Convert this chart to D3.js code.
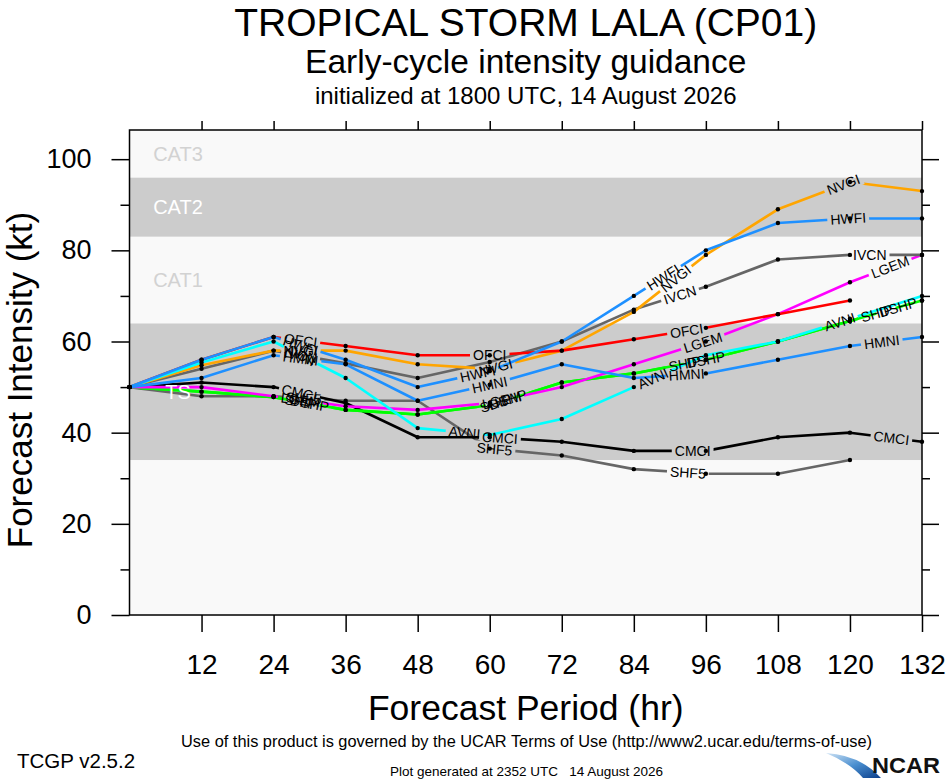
<!DOCTYPE html>
<html><head><meta charset="utf-8">
<script src="https://cdn.jsdelivr.net/npm/d3@7"></script>
<style>
body{margin:0;background:#fff}
svg{display:block}
text{font-family:"Liberation Sans",Arial,Helvetica,sans-serif}
</style>
</head><body>
<svg id="c" width="946" height="780"></svg>
<script>
// ---------------- data ----------------
const hours = [0,12,24,36,48,60,72,84,96,108,120,132];
const OFCI = [50,56,61,59,57,57,58,60.5,63,66,69,null];
const NVGI = [50,54.8,58,58,55,54,58,66.5,79,89,95,93];
const HWFI = [50,56,61,56,50,53.5,60,70,80,86,87,87];
const HMNI = [50,52,57,55,47,50.5,55,52,53,56,59,61];
const IVCN = [50,54,58,55.2,52,55.5,60,67,72,78,79,79];
const LGEM = [50,50,48,45.8,45,46.5,50,55,60,66,73,79];
const SHIP = [50,49,47.8,45,44,46,51,53,56,60,64.5,69];
const DSHP = [50,49,47.8,45,44,46,51,53,56,60,64.5,69];
const AVNI = [50,55.4,60,52,41,39.5,43,50,57,60,65,70];
const CMCI = [50,51,50,46.5,39,39,38,36,36,39,40,38];
const SHF5 = [50,48,48,47,47,36.5,35,32,31,31,34,null];

const seriesNames  = ["SHF5","CMCI","DSHP","SHIP","LGEM","IVCN","NVGI","OFCI","AVNI","HMNI","HWFI"];
const seriesData   = [SHF5, CMCI, DSHP, SHIP, LGEM, IVCN, NVGI, OFCI, AVNI, HMNI, HWFI];
const seriesColors = ["#666666","#000000","#00ff00","#00ff00","#ff00ff","#666666","#ffa500","#ff0000","#00ffff","#1e90ff","#1e90ff"];
// forecast hours where each line carries its name
const labelHours = [
  [29,60.8,93],
  [28.3,61.7,93.8,126.9],
  [30,63,96,128],
  [28.5,61,92.5,124.5],
  [28.5,62,95.5,126.7],
  [28.5,91.7,123.3],
  [28.5,61,91,118.9],
  [28.5,60,92.8],
  [28.5,55.8,87.2,118.3],
  [28.5,60,92.8,125.3],
  [28.5,58,88.9,119.7]
];

const bandEdges = [0,34,64,83,96,106.4];
const bandNames = ["","TS","CAT1","CAT2","CAT3"];
const xTicks = [12,24,36,48,60,72,84,96,108,120,132];
const yMajor = [0,20,40,60,80,100];
const yMinor = [10,30,50,70,90];

// ---------------- layout ----------------
const svg = d3.select("#c");
const L = 129.5, R = 922, T = 130, B = 615;
const x = d3.scaleLinear().domain([0,132]).range([L,R]);
const y = d3.scaleLinear().domain([0,106.4]).range([B,T]);

svg.append("rect").attr("width",946).attr("height",780).attr("fill","#fff");

// bands
const bandFill = ["#f9f9f9","#cccccc","#f9f9f9","#cccccc","#f9f9f9"];
const bandText = ["#d2d2d2","#ffffff","#d2d2d2","#ffffff","#d2d2d2"];
bandNames.forEach((n,i)=>{
  svg.append("rect").attr("x",L).attr("width",R-L)
    .attr("y",y(bandEdges[i+1])).attr("height",y(bandEdges[i])-y(bandEdges[i+1]))
    .attr("fill",bandFill[i]);
});

// lines
const defs = svg.append("defs");
const gLines = svg.append("g");
const gBandLab = svg.append("g");
const gDots = svg.append("g");
const gLabels = svg.append("g");

bandNames.forEach((n,i)=>{
  if(n){
    gBandLab.append("text").attr("x",178).attr("y",(y(bandEdges[i])+y(bandEdges[i+1]))/2)
      .attr("text-anchor","middle").attr("dominant-baseline","central")
      .attr("font-size",20).attr("fill",bandText[i]).text(n);
  }
});

function pointAt(vals,h){
  for(let i=0;i<hours.length-1;i++){
    if(h>=hours[i] && h<=hours[i+1] && vals[i]!=null && vals[i+1]!=null){
      const t=(h-hours[i])/(hours[i+1]-hours[i]);
      const v=vals[i]+t*(vals[i+1]-vals[i]);
      const ang=Math.atan2(y(vals[i+1])-y(vals[i]), x(hours[i+1])-x(hours[i]))*180/Math.PI;
      return {px:x(h),py:y(v),ang};
    }
  }
  return null;
}

const line = d3.line().defined(d=>d[1]!=null).x(d=>x(d[0])).y(d=>y(d[1]));

seriesNames.forEach((name,si)=>{
  const vals = seriesData[si];
  const pts = hours.map((h,i)=>[h,vals[i]]);
  const mask = defs.append("mask").attr("id","mk"+si)
    .attr("maskUnits","userSpaceOnUse").attr("x",0).attr("y",0).attr("width",946).attr("height",780);
  mask.append("rect").attr("width",946).attr("height",780).attr("fill","#fff");
  labelHours[si].forEach(h=>{
    const p = pointAt(vals,h); if(!p) return;
    const t = gLabels.append("text")
      .attr("transform",`translate(${p.px},${p.py}) rotate(${p.ang})`)
      .attr("text-anchor","middle").attr("dominant-baseline","central")
      .attr("font-size",14).attr("fill","#000").text(name);
    const w = t.node().getComputedTextLength()+6;
    mask.append("rect").attr("x",-w/2).attr("y",-7).attr("width",w).attr("height",14)
      .attr("fill","#000").attr("transform",`translate(${p.px},${p.py}) rotate(${p.ang})`);
  });
  gLines.append("path").attr("d",line(pts)).attr("fill","none")
    .attr("stroke",seriesColors[si]).attr("stroke-width",2.6)
    .attr("stroke-linejoin","round").attr("mask",`url(#mk${si})`);
  gDots.selectAll(null).data(pts.filter(d=>d[1]!=null)).enter().append("circle")
    .attr("cx",d=>x(d[0])).attr("cy",d=>y(d[1])).attr("r",2.2).attr("fill","#000");
});

// frame
svg.append("rect").attr("x",L).attr("y",T).attr("width",R-L).attr("height",B-T)
  .attr("fill","none").attr("stroke","#000").attr("stroke-width",1.5);

function styleAxis(g){
  g.select(".domain").remove();
  g.selectAll(".tick line").attr("stroke","#000").attr("stroke-width",1.5);
  g.selectAll("text").attr("font-family","'Liberation Sans',Arial,Helvetica,sans-serif").attr("fill","#000");
}
svg.append("g").attr("transform",`translate(0,${B})`)
  .call(d3.axisBottom(x).tickValues(xTicks).tickSize(17).tickPadding(22).tickFormat(d3.format("d")))
  .call(styleAxis).selectAll("text").attr("font-size",28);
svg.append("g").attr("transform",`translate(0,${T})`)
  .call(d3.axisTop(x).tickValues(xTicks).tickSize(9).tickFormat(""))
  .call(styleAxis);
svg.append("g").attr("transform",`translate(${L},0)`)
  .call(d3.axisLeft(y).tickValues(yMajor).tickSize(18).tickPadding(20).tickFormat(d3.format("d")))
  .call(styleAxis).selectAll("text").attr("font-size",27);
svg.append("g").attr("transform",`translate(${L},0)`)
  .call(d3.axisLeft(y).tickValues(yMinor).tickSize(9).tickFormat(""))
  .call(styleAxis);
svg.append("g").attr("transform",`translate(${R},0)`)
  .call(d3.axisRight(y).tickValues(yMajor).tickSize(17).tickFormat(""))
  .call(styleAxis);
svg.append("g").attr("transform",`translate(${R},0)`)
  .call(d3.axisRight(y).tickValues(yMinor).tickSize(8).tickFormat(""))
  .call(styleAxis);

// titles
const cx = (L+R)/2;
svg.append("text").attr("x",cx).attr("y",36).attr("text-anchor","middle").attr("font-size",39)
  .text("TROPICAL STORM LALA (CP01)");
svg.append("text").attr("x",cx).attr("y",73).attr("text-anchor","middle").attr("font-size",33.5)
  .text("Early-cycle intensity guidance");
svg.append("text").attr("x",cx).attr("y",104).attr("text-anchor","middle").attr("font-size",24)
  .text("initialized at 1800 UTC, 14 August 2026");
svg.append("text").attr("x",cx).attr("y",720).attr("text-anchor","middle").attr("font-size",35.5)
  .text("Forecast Period (hr)");
svg.append("text").attr("transform",`translate(32,380) rotate(-90)`).attr("text-anchor","middle").attr("font-size",35)
  .text("Forecast Intensity (kt)");

// footer
svg.append("text").attr("x",526.5).attr("y",747).attr("text-anchor","middle").attr("font-size",16)
  .attr("textLength",691).attr("lengthAdjust","spacingAndGlyphs")
  .text("Use of this product is governed by the UCAR Terms of Use (http://www2.ucar.edu/terms-of-use)");
svg.append("text").attr("x",17).attr("y",768).attr("font-size",20.5).text("TCGP v2.5.2");
svg.append("text").attr("x",526.5).attr("y",776).attr("text-anchor","middle").attr("font-size",13.5)
  .attr("xml:space","preserve").text("Plot generated at 2352 UTC   14 August 2026");

// NCAR logo
const grad = defs.append("linearGradient").attr("id","ncg").attr("x1","0").attr("y1","0").attr("x2","1").attr("y2","1");
grad.append("stop").attr("offset","0").attr("stop-color","#cfe3f5");
grad.append("stop").attr("offset","0.5").attr("stop-color","#4a8fd0");
grad.append("stop").attr("offset","1").attr("stop-color","#0b3f8c");
svg.append("path").attr("d","M826,753 Q860,755 881,778 L863,778 Q850,763 826,753 Z").attr("fill","url(#ncg)");
svg.append("text").attr("x",872).attr("y",773).attr("font-size",22).attr("font-weight","bold")
  .attr("textLength",68).attr("lengthAdjust","spacingAndGlyphs").attr("fill","#111").text("NCAR");
</script>
</body></html>
